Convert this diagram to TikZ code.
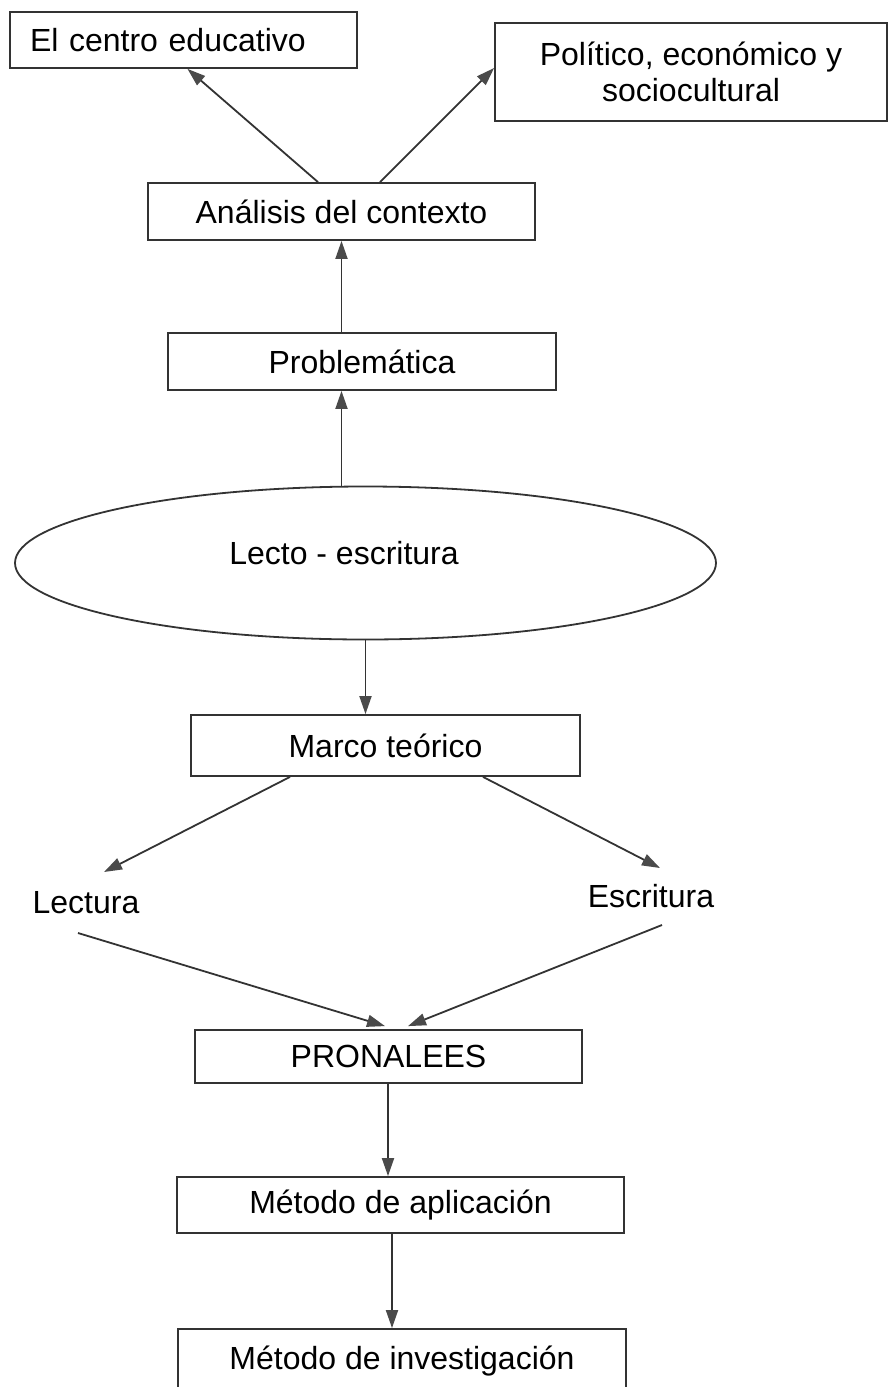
\documentclass[tikz,border=0pt]{standalone}
\usepackage{fontspec}
\setmainfont{Liberation Sans}
\usetikzlibrary{arrows.meta,shapes.geometric,calc}
\definecolor{ink}{HTML}{333333}
\definecolor{tipc}{HTML}{4A4A4A}
\tikzset{
  box/.style={draw=ink, line width=1.8pt, rectangle, inner sep=0pt, font=\fontsize{32}{36}\selectfont},
  lbl/.style={inner sep=0pt, font=\fontsize{32}{36}\selectfont},
  conn/.style={draw=ink, line width=1.8pt, -{Triangle[length=18pt,width=12pt,fill=tipc,color=tipc]}},
}
\begin{document}
\begin{tikzpicture}[x=1pt,y=-1pt]
\useasboundingbox (0,0) rectangle (888,1387);
\node[box, minimum width=347pt, minimum height=56pt, text width=307pt, align=left] (centro) at (183.5,40) {El centro educativo};
\node[box, minimum width=392pt, minimum height=98pt, align=center] (politico) at (691,72) {Político, económico y\\sociocultural};
\node[box, minimum width=387pt, minimum height=57pt] (analisis) at (341.5,211.5) {Análisis del contexto};
\node[box, minimum width=388pt, minimum height=57pt] (problematica) at (362,361.5) {Problemática};
\node[draw=ink, line width=1.8pt, ellipse, minimum width=701pt, minimum height=153pt, inner sep=0pt] (elipse) at (365.5,563) {};
\node[lbl] (lecto) at (344,553) {Lecto - escritura};
\node[box, minimum width=389pt, minimum height=61pt] (marco) at (385.5,745.5) {Marco teórico};
\node[lbl] (lectura) at (86,903) {Lectura};
\node[lbl] (escritura) at (651,896) {Escritura};
\node[box, minimum width=387pt, minimum height=53pt] (pronalees) at (388.5,1056.5) {PRONALEES};
\node[box, minimum width=447pt, minimum height=56pt] (aplicacion) at (400.5,1205) {Método de aplicación};
\node[box, minimum width=448pt, minimum height=64pt] (investigacion) at (402,1361) {Método de investigación};
\coordinate (ltip) at (104,872);
\coordinate (etip) at (660,868);
\coordinate (lfrom) at (78,933);
\coordinate (efrom) at (662,925);

\draw[conn] ($(analisis.north)+(-23.5,0)$) -- ($(centro.south)+(4,0)$);
\draw[conn] ($(analisis.north)+(38.5,0)$) -- ($(politico.west)+(0,-4)$);
\draw[conn] (analisis.south |- problematica.north) -- (analisis.south);
\draw[conn] (analisis.south |- elipse.north) -- (analisis.south |- problematica.south);
\draw[conn] (elipse.south) -- (elipse.south |- marco.north);
\draw[conn] ($(marco.south)+(-95.5,0)$) -- (ltip);
\draw[conn] ($(marco.south)+(97.5,0)$) -- (etip);
\draw[conn] (lfrom) -- ($(pronalees.north)+(-3.5,-3)$);
\draw[conn] (efrom) -- ($(pronalees.north)+(19.5,-3)$);
\draw[conn] ($(pronalees.south)+(-0.5,0)$) -- ($(pronalees.south |- aplicacion.north)+(-0.5,0)$);
\draw[conn] ($(aplicacion.south)+(-8.5,0)$) -- ($(aplicacion.south |- investigacion.north)+(-8.5,0)$);
\end{tikzpicture}
\end{document}
